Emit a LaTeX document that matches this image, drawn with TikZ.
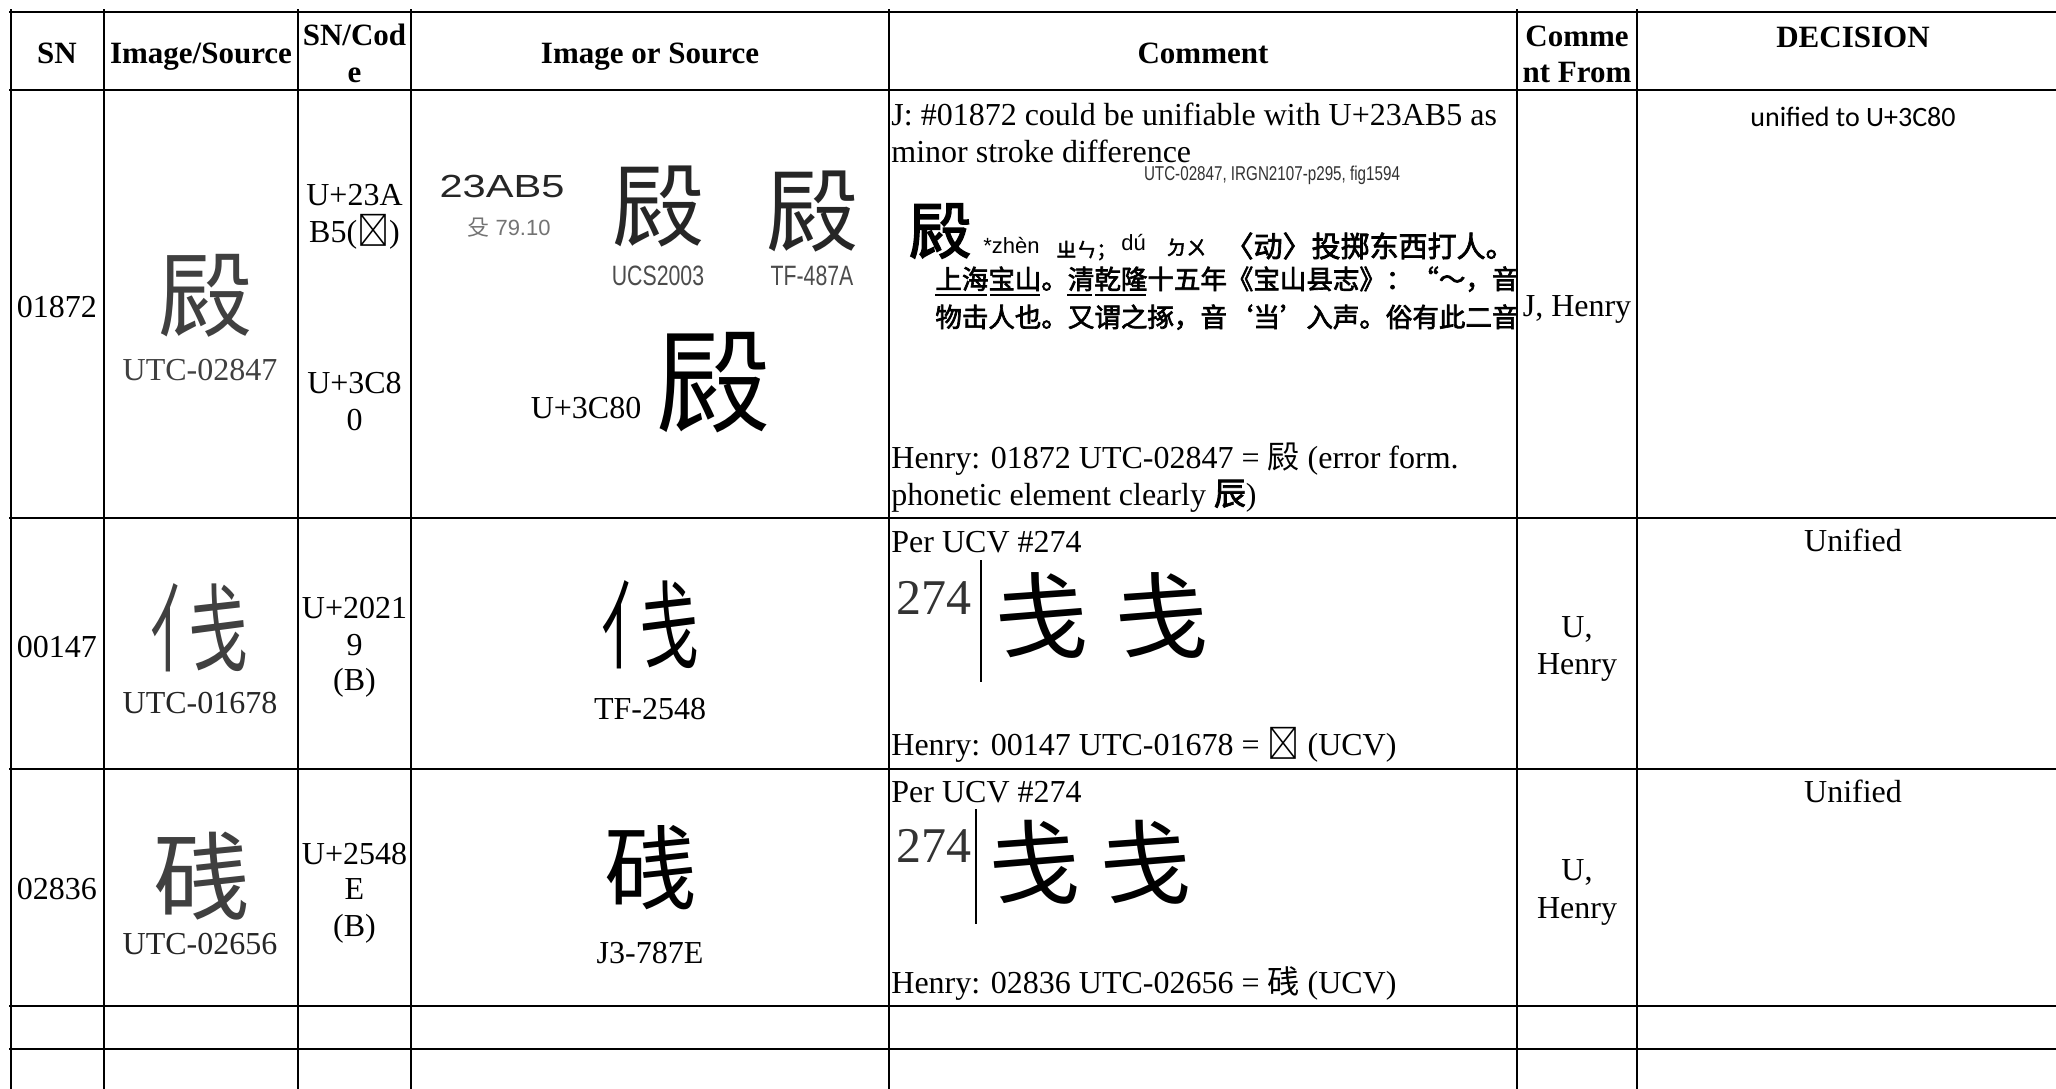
\documentclass[tikz,border=0pt]{standalone}
\usepackage{graphicx}
\usepackage{fontspec}
\setmainfont{Liberation Serif}
\newfontfamily\cjk{Noto Sans CJK SC}
\newfontfamily\cjkbold[FakeBold=2.5]{Noto Sans CJK SC}
\newfontfamily\calibri{Carlito}
\newfontfamily\arial{Liberation Sans}
\newfontfamily\arialn[FakeStretch=0.76]{Liberation Sans}
\newfontfamily\arialw[FakeStretch=1.3]{Liberation Sans}
\newcommand{\sz}[1]{\fontsize{#1}{#1}\selectfont}
% person radical + jian, drawn from its two parts (image glyph)
\newcommand{\renjian}{\mbox{\scalebox{0.6}[1]{亻}\kern-0.2em\scalebox{0.62}[1]{戋}}}

\begin{document}
\begin{tikzpicture}[x=0.5pt,y=-0.5pt,
    tabline/.style={line width=1pt},
    hdr/.style={font=\bfseries\sz{15.5}, inner sep=0pt, anchor=base},
    txt/.style={font=\sz{16}, inner sep=0pt, anchor=base},
    ltxt/.style={txt, anchor=base west},
    glyph/.style={font=\cjk\sz{#1}, inner sep=0pt},
    lbl/.style={font=\arialn\sz{14}, text=black!70, inner sep=0pt, anchor=base},
    ucvnum/.style={font=\sz{25}, text=black!80, inner sep=0pt, anchor=base west},
    dict/.style={font=\cjkbold\sz{13.25}, inner sep=0pt, anchor=base west}]
\useasboundingbox (0,0) rectangle (2056,1088);
\clip (0,0) rectangle (2056,1088);
\fill[white] (0,0) rectangle (2056,1088);

    % Grid
    \foreach \x in {11,104,298,411,889,1517,1637} \draw[tabline] (\x,9) -- (\x,1100);
    \foreach \y in {12,90,518,769,1006,1049} \draw[tabline] (9,\y) -- (2080,\y);

    % Header
    \node[hdr] (hsn) at (57,63) {SN};
    \node[hdr] (himg) at (201,63) {Image/Source};
    \node[hdr] (hcode) at (354.5,45) {SN/Cod};
    \node[hdr] (hcodee) at (354.5,82) {e};
    \node[hdr] (hsrc) at (650,63) {Image or Source};
    \node[hdr] (hcmt) at (1203,63) {Comment};
    \node[hdr] (hfrom) at (1577,46) {Comme};
    \node[hdr] (hfromb) at (1577,82) {nt From};
    \node[hdr] (hdec) at (1853,47) {DECISION};

    % Row 01872
    \node[txt] (sn1) at (57,317) {01872};
    \node[glyph=47, text=black!75] (g1) at (205,296) {㲀};
    \node[txt, text=black!75] (utc1) at (200,380) {UTC-02847};
    \node[txt] (code1a) at (354.5,205) {U+23A};
    \node[txt] (code1b) at (354.5,242) {B5({\cjk 𣪵})};
    \node[txt] (code1c) at (354.5,393) {U+3C8};
    \node[txt] (code1d) at (354.5,430) {0};
    \node[inner sep=0pt, anchor=base, font=\arialw\sz{16}, text=black!85] (ucs) at (502,197) {23AB5};
    \node[inner sep=0pt, anchor=base, font=\arial\sz{11}, text=black!55] (rad) at (509,235) {{\cjk 殳}~79.10};
    \node[glyph=46, text=black!85] (gucs) at (658,207) {㲀};
    \node[lbl] (lucs) at (658,285) {UCS2003};
    \node[glyph=46, text=black!85] (gtf) at (812,212) {㲀};
    \node[lbl] (ltf) at (812,285) {TF-487A};
    \node[txt] (lu3c80) at (586,418) {U+3C80};
    \node[glyph=57] (g3c80) at (713,383) {㲀};
    \node[ltxt] (c1a) at (891,125) {J: \#01872 could be unifiable with U+23AB5 as};
    \node[ltxt] (c1b) at (891,162) {minor stroke difference};
    \node[lbl, font=\arialn\sz{10}, text=black!80] (fig) at (1272,180) {UTC-02847, IRGN2107-p295, fig1594};
    \begin{scope}
    \clip (889,90) rectangle (1517,518);
    \node[font=\cjkbold\sz{31}, inner sep=0pt] (dhead) at (940,231) {㲀};
    \node[inner sep=0pt, anchor=base west, font=\arial\sz{11}] (zhen) at (983,253) {*zhèn};
    \node[inner sep=0pt, anchor=base west, font=\cjkbold\sz{10}] (bpm1) at (1056,257) {ㄓㄣ；};
    \node[inner sep=0pt, anchor=base west, font=\arial\sz{11}] (du) at (1121,250) {dú};
    \node[inner sep=0pt, anchor=base west, font=\cjkbold\sz{10}] (bpm2) at (1166,255) {ㄉㄨ};
    \node[dict, font=\cjkbold\sz{14.5}, anchor=base east] (dl1) at (1515,257) {〈动〉投掷东西打人。};
    \node[dict] (dl2) at (935,289) {上海宝山。清乾隆十五年《宝山县志》：“～，音};
    \node[dict] (dl3) at (935,327) {物击人也。又谓之㧻，音‘当’入声。俗有此二音};
    \end{scope}
    \draw[line width=1pt] (935,295) -- (987,295) (990,295) -- (1040,295)
        (1067,295) -- (1092,295) (1095,295) -- (1146,295);
    \node[ltxt] (c1h1) at (891,468) {Henry: 01872 UTC-02847 = {\cjk 㲀} (error form.};
    \node[ltxt] (c1h2) at (891,505) {phonetic element clearly {\cjkbold 辰})};
    \node[txt] (from1) at (1577,316) {J, Henry};
    \node[txt, font=\calibri\sz{14}] (dec1) at (1853,126) {unified to U+3C80};

    % Row 00147
    \node[txt] (sn2) at (57,657) {00147};
    \node[glyph=48, text=black!75] (g2) at (199,628) {\renjian};
    \node[txt, text=black!85] (utc2) at (200,713) {UTC-01678};
    \node[txt] (code2a) at (354.5,618) {U+2021};
    \node[txt] (code2b) at (354.5,655) {9};
    \node[txt] (code2c) at (354.5,690) {(B)};
    \node[glyph=48] (gtf2) at (650,625) {\renjian};
    \node[txt] (ltf2) at (650,719) {TF-2548};
    \node[ltxt] (ucv2) at (891,552) {Per UCV \#274};
    \node[ucvnum] (n274a) at (896,614) {274};
    \draw[line width=1.3pt] (981,560) -- (981,682);
    \node[glyph=47] (ucv2a) at (1041,615) {戋};
    \node[glyph=47] (ucv2b) at (1161,615) {戋};
    \node[ltxt] (c2h) at (891,755) {Henry: 00147 UTC-01678 = {\cjk 𠈙} (UCV)};
    \node[txt] (from2a) at (1577,637) {U,};
    \node[txt] (from2b) at (1577,674) {Henry};
    \node[txt] (dec2) at (1853,551) {Unified};

    % Row 02836
    \node[txt] (sn3) at (57,899) {02836};
    \node[glyph=48, text=black!75] (g3) at (201,876) {𥒎};
    \node[txt, text=black!85] (utc3) at (200,954) {UTC-02656};
    \node[txt] (code3a) at (354.5,864) {U+2548};
    \node[txt] (code3b) at (354.5,899) {E};
    \node[txt] (code3c) at (354.5,936) {(B)};
    \node[glyph=46] (gj3) at (650,868) {𥒎};
    \node[txt] (lj3) at (650,963) {J3-787E};
    \node[ltxt] (ucv3) at (891,802) {Per UCV \#274};
    \node[ucvnum] (n274b) at (896,862) {274};
    \draw[line width=1.3pt] (976,809) -- (976,924);
    \node[glyph=46] (ucv3a) at (1034,862) {戋};
    \node[glyph=46] (ucv3b) at (1145,862) {戋};
    \node[ltxt] (c3h) at (891,993) {Henry: 02836 UTC-02656 = {\cjk 𥒎} (UCV)};
    \node[txt] (from3a) at (1577,880) {U,};
    \node[txt] (from3b) at (1577,918) {Henry};
    \node[txt] (dec3) at (1853,802) {Unified};
\end{tikzpicture}
\end{document}
